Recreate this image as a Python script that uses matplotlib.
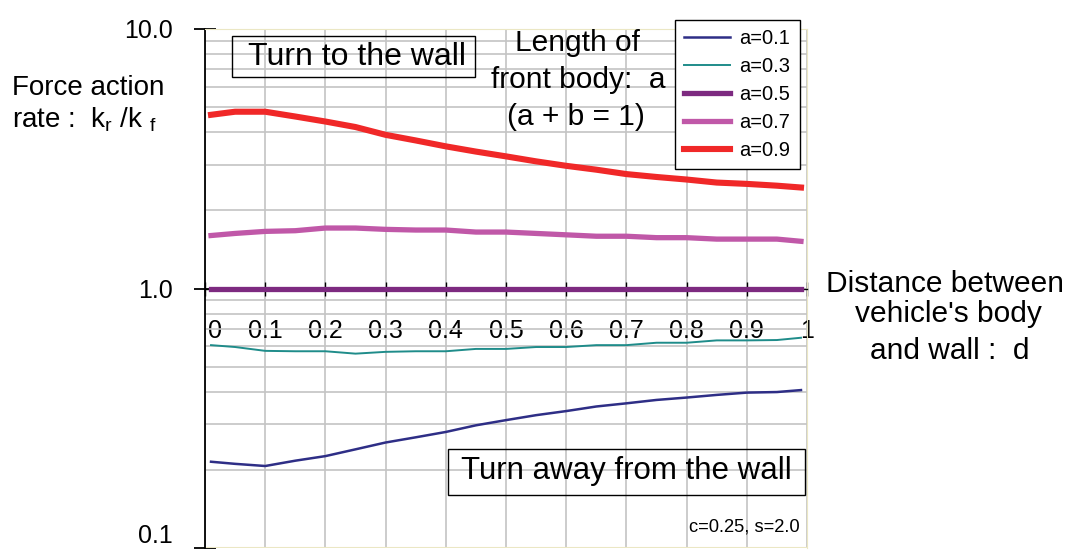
import numpy as np
import matplotlib
matplotlib.use("Agg")
import matplotlib.pyplot as plt
import matplotlib.transforms as mtransforms
from matplotlib.patches import Rectangle
from matplotlib.ticker import LogLocator, NullFormatter

plt.rcParams['font.family'] = ['Liberation Sans', 'DejaVu Sans']
plt.rcParams['mathtext.fontset'] = 'custom'
plt.rcParams['mathtext.rm'] = 'Liberation Sans'
plt.rcParams['mathtext.it'] = 'Liberation Sans'

# distance between vehicle's body and wall
d = [0.01, 0.05, 0.10, 0.15, 0.20, 0.25, 0.30, 0.35, 0.40, 0.45, 0.50,
     0.55, 0.60, 0.65, 0.70, 0.75, 0.80, 0.85, 0.90, 0.95, 0.99]

# force action rate kr/kf for each front body length a
ratio_a01 = [0.215, 0.211, 0.207, 0.217, 0.226, 0.240, 0.255, 0.267, 0.280, 0.297, 0.311,
             0.325, 0.337, 0.351, 0.361, 0.372, 0.380, 0.389, 0.397, 0.399, 0.406]
ratio_a03 = [0.605, 0.595, 0.575, 0.573, 0.573, 0.561, 0.570, 0.573, 0.573, 0.585, 0.585,
             0.595, 0.595, 0.605, 0.605, 0.618, 0.618, 0.631, 0.631, 0.633, 0.646]
ratio_a05 = [1.0] * len(d)
ratio_a07 = [1.60, 1.63, 1.66, 1.67, 1.71, 1.71, 1.69, 1.68, 1.68, 1.65, 1.65,
             1.63, 1.61, 1.59, 1.59, 1.57, 1.57, 1.55, 1.55, 1.55, 1.52]
ratio_a09 = [4.67, 4.80, 4.80, 4.60, 4.40, 4.19, 3.91, 3.72, 3.53, 3.37, 3.23,
             3.09, 2.97, 2.87, 2.76, 2.69, 2.63, 2.56, 2.53, 2.49, 2.45]

labels = ["a=0.1", "a=0.3", "a=0.5", "a=0.7", "a=0.9"]
series = [ratio_a01, ratio_a03, ratio_a05, ratio_a07, ratio_a09]
colors = ["#2e2e86", "#1f8c8a", "#7d2a80", "#c058a8", "#f02828"]
widths = [1.8, 1.4, 3.8, 3.8, 4.4]

x_ticks = [0.0, 0.1, 0.2, 0.3, 0.4, 0.5, 0.6, 0.7, 0.8, 0.9, 1.0]
x_ticklabels = ["0", "0.1", "0.2", "0.3", "0.4", "0.5", "0.6", "0.7", "0.8", "0.9", "1"]
y_ticks = [0.1, 1.0, 10.0]
y_ticklabels = ["0.1", "1.0", "10.0"]

fig = plt.figure(figsize=(10.68, 5.54), dpi=100)
W, H = 1068, 554
ax = fig.add_axes([205 / W, 1 - 548 / H, (807 - 205) / W, (548 - 29) / H])

for y, lab, c, lw in zip(series, labels, colors, widths):
    ax.plot(d, y, color=c, lw=lw, label=lab, zorder=3)

ax.set_yscale('log')
ax.set_ylim(0.1, 10)
ax.set_xlim(0, 1)
ax.set_yticks(y_ticks)
ax.set_yticklabels(y_ticklabels)
ax.yaxis.set_minor_locator(LogLocator(base=10, subs=np.arange(2, 10)))
ax.yaxis.set_minor_formatter(NullFormatter())
ax.set_xticks(x_ticks)
ax.set_xticklabels(x_ticklabels)

ax.grid(True, which='both', color='#c4c4c4', lw=1.2, zorder=0)
ax.set_axisbelow(True)

# x axis crosses at 1.0
ax.spines['bottom'].set_position(('data', 1.0))
ax.spines['bottom'].set_color('black')
ax.spines['bottom'].set_linewidth(1.0)
ax.spines['left'].set_linewidth(1.3)
ax.spines['top'].set_color('#ebe7c4')
ax.spines['right'].set_color('#ebe7c4')
ax.axhline(0.1, color='#ebe7c4', lw=1.5, zorder=1)

ax.tick_params(axis='x', which='major', direction='inout', length=10, width=1.0,
               pad=17, labelsize=18)
ax.tick_params(axis='y', which='major', direction='inout', length=16, width=1.3,
               pad=15, labelsize=18)
ax.tick_params(axis='y', which='minor', length=0)

# first x label sits just right of the y axis, bottom y label kept inside the figure
lab0 = ax.get_xticklabels()[0]
lab0.set_horizontalalignment('left')
lab0.set_transform(lab0.get_transform() + mtransforms.ScaledTranslation(3 / 100, 0, fig.dpi_scale_trans))
ax.get_yticklabels()[0].set_verticalalignment('bottom')

# annotation boxes
fig.add_artist(Rectangle((232 / W, 1 - 77 / H), (475 - 232) / W, (77 - 36) / H,
                         transform=fig.transFigure, fill=False, ec='black', lw=1.0))
fig.text(357 / W, 1 - 57 / H, "Turn to the wall", ha='center', va='center', fontsize=23)

fig.add_artist(Rectangle((448 / W, 1 - 495 / H), (805 - 448) / W, (495 - 449) / H,
                         transform=fig.transFigure, fill=False, ec='black', lw=1.0))
fig.text(626 / W, 1 - 471 / H, "Turn away from the wall", ha='center', va='center', fontsize=22.5)

fig.text(577 / W, 1 - 43 / H, "Length of", ha='center', va='center', fontsize=21.5)
fig.text(578 / W, 1 - 80 / H, "front body:  a", ha='center', va='center', fontsize=21.5)
fig.text(576 / W, 1 - 117 / H, "(a + b = 1)", ha='center', va='center', fontsize=21.5)

fig.text(12 / W, 1 - 88 / H, "Force action", ha='left', va='center', fontsize=20)
fig.text(12 / W, 1 - 120 / H, r"rate :  k$_{\rm r}$ /k $_{\rm f}$", ha='left', va='center',
         fontsize=20)

fig.text(945 / W, 1 - 284 / H, "Distance between", ha='center', va='center', fontsize=21.5)
fig.text(948 / W, 1 - 314 / H, "vehicle's body", ha='center', va='center', fontsize=21.5)
fig.text(950 / W, 1 - 351 / H, "and wall :  d", ha='center', va='center', fontsize=21.5)

fig.text(800 / W, 1 - 527 / H, "c=0.25, s=2.0", ha='right', va='center', fontsize=13.2)

leg = fig.legend(loc='upper left', bbox_to_anchor=(675 / W, 1 - 20 / H), fontsize=14.5,
                 frameon=True, fancybox=False, edgecolor='black', framealpha=1,
                 handlelength=2.3, labelspacing=0.45, borderpad=0.45, handletextpad=0.45,
                 borderaxespad=0)
leg.get_frame().set_linewidth(1.0)

fig.savefig("out.png", dpi=100)
